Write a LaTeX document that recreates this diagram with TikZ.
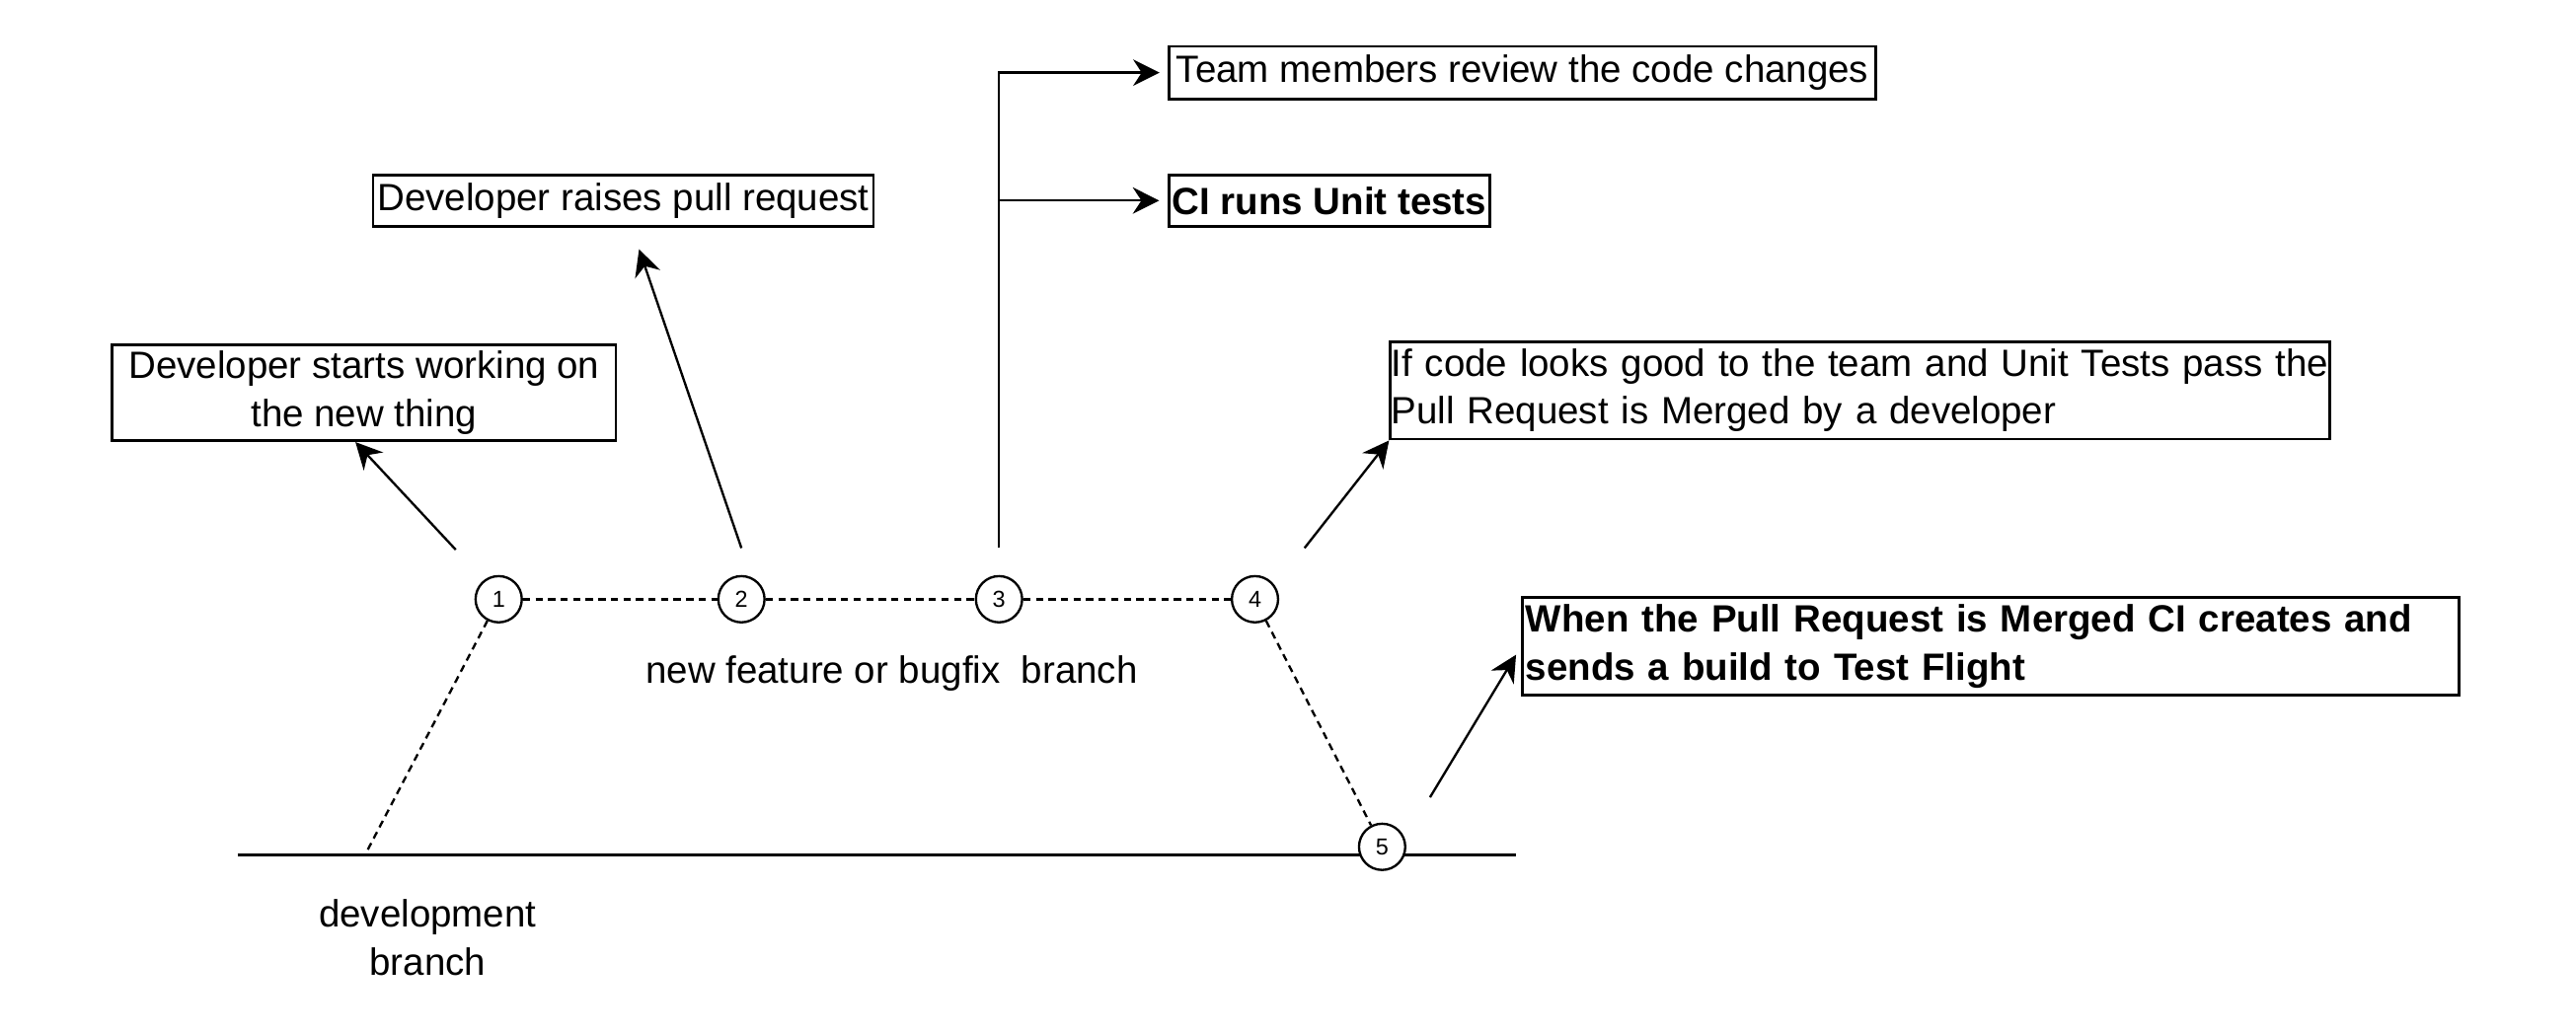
\documentclass[tikz,border=0pt]{standalone}
\usepackage{fontspec}
\setmainfont{Liberation Sans}
\usetikzlibrary{positioning,arrows.meta}

\begin{document}
\begin{tikzpicture}[x=0.5pt,y=-0.5pt,
    note/.style={rectangle,draw,line width=0.8pt,inner xsep=1pt,inner ysep=0pt,
      font=\fontsize{11.5}{14.5}\selectfont},
    commit/.style={circle,draw,line width=0.7pt,fill=white,minimum size=14pt,
      inner sep=0pt,font=\fontsize{7}{8}\selectfont},
    link/.style={line width=0.7pt,-{Stealth[length=8pt,width=8pt,inset=2.6pt]}},
    branchline/.style={line width=0.7pt,dash pattern=on 2.2pt off 1.6pt}]
  \useasboundingbox (0,0) rectangle (1560,626.4);

  % development branch
  \coordinate (devL) at (144,518);
  \coordinate (devR) at (918,518);
  \coordinate (fork) at (221,518);
  \draw[line width=0.8pt] (devL) -- (devR);

  % commits
  \node[commit] (n1) at (302,363) {1};
  \node[commit] (n2) at (449,363) {2};
  \node[commit] (n3) at (605,363) {3};
  \node[commit] (n4) at (760,363) {4};
  \node[commit] (n5) at (837,513) {5};

  \draw[branchline] (n1) -- (n2) -- (n3) -- (n4);
  \draw[branchline] (n1) -- (fork);
  \draw[branchline] (n4) -- (n5);

  % notes
  \node[note,minimum width=152.5pt,minimum height=29pt,align=center] (start) at (220.5,238)
    {Developer starts working on\\the new thing};
  \node[note,minimum width=151.5pt,minimum height=15.5pt] (raise) at (377.5,121.5)
    {Developer raises pull request};
  \node[note,minimum width=214pt,minimum height=16pt] (review) at (922,44)
    {Team members review the code changes};
  \node[note,minimum width=97pt,minimum height=15.5pt,font=\fontsize{11.5}{14.5}\selectfont\bfseries] (unit) at (805,121.5)
    {CI runs Unit tests};
  \node[note,inner xsep=0.25pt,text width=284pt,minimum height=29.5pt,align=left] (merge) at (1126.5,236.5)
    {If code looks good to the team and Unit Tests pass the\\Pull Request is Merged by a developer};
  \node[note,text width=281.5pt,minimum height=29.5pt,align=left,font=\fontsize{11.5}{14.5}\selectfont\bfseries] (build) at (1205.5,391.5)
    {When the Pull Request is Merged CI creates and\\sends a build to Test Flight};

  % labels
  \node[font=\fontsize{11.5}{14.5}\selectfont] (featlbl) at (540,408) {new feature or bugfix\ \ branch};
  \node[font=\fontsize{11.5}{14.5}\selectfont,align=center] (devlbl) at (259,568) {development\\branch};

  % arrows
  \coordinate (s1) at (276,333);
  \coordinate (s2) at (449,332);
  \coordinate (t2) at (387,151);
  \coordinate (s3) at (605,332);
  \coordinate (s4) at (790,332);
  \coordinate (s5) at (866,483);
  \draw[link] (s1) -- (start.-100);
  \draw[link] (s2) -- (t2);
  \draw[link,shorten >=2.5pt] (s3) |- (review.west);
  \draw[link,shorten >=2.5pt] (s3) |- (unit.west);
  \draw[link] (s4) -- (merge.south west);
  \draw[link,shorten >=3pt] (s5) -- (build.west);
\end{tikzpicture}
\end{document}
